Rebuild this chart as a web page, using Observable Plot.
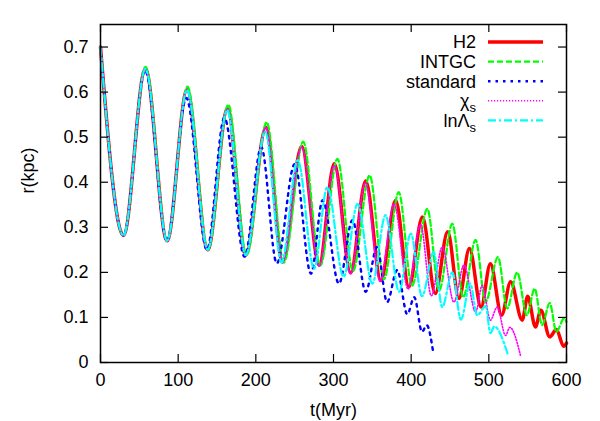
<!DOCTYPE html>
<html>
<head>
<meta charset="utf-8">
<script src="https://cdn.jsdelivr.net/npm/d3@7"></script>
<script src="https://cdn.jsdelivr.net/npm/@observablehq/plot@0.6"></script>
<style>
  html, body { margin: 0; padding: 0; background: #fff; }
  #chart { width: 600px; height: 421px; }
</style>
</head>
<body>
<div id="chart"></div>
<script>
// ---- data (extrema) ----
const xTicks = [0, 100, 200, 300, 400, 500, 600];
const yTicks = [0, 0.1, 0.2, 0.3, 0.4, 0.5, 0.6, 0.7];

const h2T = [0, 29.6, 57.8, 85.7, 111.4, 138, 163.5, 187, 213, 234.4, 259, 281.5, 301, 322, 341.5, 361, 380, 397, 414.5, 431, 447, 461.5, 475, 490, 502, 516.5, 528, 543, 550, 560, 567, 578.4, 587, 596.4, 600];
const h2R = [0.7, 0.282, 0.652, 0.27, 0.605, 0.25, 0.563, 0.238, 0.522, 0.223, 0.48, 0.216, 0.441, 0.199, 0.403, 0.182, 0.36, 0.168, 0.323, 0.153, 0.29, 0.142, 0.253, 0.123, 0.219, 0.105, 0.179, 0.094, 0.147, 0.079, 0.116, 0.057, 0.073, 0.036, 0.043];

const intgcT = [0, 29.6, 58, 86, 112, 138.5, 164.5, 188, 214, 236, 261, 283, 305, 325, 346.5, 365, 384, 401, 420.8, 436, 453, 467, 483, 495.7, 511.8, 523.6, 536.5, 549, 559, 568.6, 578.4, 587, 597, 600];
const intgcR = [0.7, 0.282, 0.656, 0.27, 0.612, 0.25, 0.572, 0.238, 0.533, 0.222, 0.49, 0.215, 0.452, 0.203, 0.415, 0.185, 0.378, 0.17, 0.341, 0.16, 0.308, 0.145, 0.272, 0.134, 0.234, 0.12, 0.2, 0.105, 0.164, 0.083, 0.132, 0.068, 0.098, 0.09];

const stdT = [0, 29.6, 57.5, 85.5, 110.5, 137, 159.5, 185.5, 207, 227, 250, 271, 286, 307, 324.4, 341.5, 356, 369, 382, 395, 404, 414, 420, 428.5];
const stdR = [0.7, 0.282, 0.648, 0.27, 0.587, 0.25, 0.543, 0.235, 0.478, 0.22, 0.44, 0.197, 0.36, 0.175, 0.316, 0.157, 0.256, 0.134, 0.205, 0.107, 0.145, 0.068, 0.083, 0.021];

const chiT = [0, 29.6, 57.8, 85.7, 111.4, 138, 163.5, 187, 213, 234.4, 259, 281.5, 301, 322, 341, 360, 378, 396, 412, 426, 440, 455, 468, 483, 491.5, 502, 510.8, 521.5, 527, 540.7];
const chiR = [0.7, 0.282, 0.652, 0.27, 0.605, 0.25, 0.563, 0.238, 0.522, 0.223, 0.478, 0.214, 0.437, 0.197, 0.398, 0.18, 0.352, 0.163, 0.306, 0.148, 0.256, 0.134, 0.216, 0.112, 0.171, 0.094, 0.123, 0.06, 0.078, 0.016];

const lnT = [0, 29.6, 57.8, 85.7, 111.4, 138, 163, 187, 212, 233, 254, 275, 292, 313, 331, 350, 367, 384.5, 399.5, 414, 429, 440, 453, 464, 476, 485, 496, 502, 507, 524];
const lnR = [0.7, 0.282, 0.652, 0.27, 0.605, 0.25, 0.56, 0.238, 0.512, 0.222, 0.449, 0.208, 0.389, 0.19, 0.352, 0.175, 0.327, 0.157, 0.286, 0.147, 0.245, 0.123, 0.2, 0.095, 0.175, 0.105, 0.125, 0.065, 0.08, 0.02];

const seriesNames = ["H2", "INTGC", "standard", "χs", "lnΛs"];

const toRows = (ts, rs) => ts.map((t, i) => ({t, r: rs[i]}));
const datasets = [toRows(h2T, h2R), toRows(intgcT, intgcR), toRows(stdT, stdR), toRows(chiT, chiR), toRows(lnT, lnR)];

const W = 600, H = 421;
const mL = 100, mR = 34, mT = 24, mB = 59;
const innerW = W - mL - mR, innerH = H - mT - mB;
const TK = 8;
const FONT = "'Liberation Sans', Arial, Helvetica, sans-serif";
const FS = 18;

const styles = [
  {stroke: "#ff0000", strokeWidth: 3.5, dash: null},
  {stroke: "#00ff00", strokeWidth: 2.2, dash: "6,3"},
  {stroke: "#0000ff", strokeWidth: 2.4, dash: "2.5,5"},
  {stroke: "#ff00ff", strokeWidth: 1.6, dash: "1.2,1.8"},
  {stroke: "#00ffff", strokeWidth: 2.2, dash: "8,3,2,3"}
];

const lineMarks = datasets.map((d, i) => Plot.line(d, {
  x: "t", y: "r", curve: "monotone-x",
  stroke: styles[i].stroke, strokeWidth: styles[i].strokeWidth,
  strokeDasharray: styles[i].dash
}));

const plot = Plot.plot({
  width: W, height: H,
  marginLeft: mL, marginRight: mR, marginTop: mT, marginBottom: mB,
  style: {fontFamily: FONT, fontSize: FS + "px", color: "#000", background: "#fff"},
  x: {domain: [0, 600]},
  y: {domain: [0, 0.75]},
  marks: [
    Plot.axisX(xTicks, {tickSize: 0, tickPadding: 11, label: null, fontSize: FS}),
    Plot.axisY(yTicks, {tickSize: 0, tickPadding: 12, label: null, fontSize: FS, tickFormat: d => d === 0 ? "0" : d3.format(".1f")(d)}),
    Plot.text(["t(Myr)"], {frameAnchor: "bottom", lineAnchor: "middle", dy: 48, fontSize: FS}),
    Plot.text(["r(kpc)"], {frameAnchor: "left", dx: -72, rotate: -90, fontSize: FS}),
    ...lineMarks,
    // inward ticks on all four sides
    Plot.tickY(yTicks, {y: d => d, insetRight: innerW - TK, stroke: "#000", strokeWidth: 1.2}),
    Plot.tickY(yTicks, {y: d => d, insetLeft: innerW - TK, stroke: "#000", strokeWidth: 1.2}),
    Plot.tickX(xTicks, {x: d => d, insetTop: innerH - TK, stroke: "#000", strokeWidth: 1.2}),
    Plot.tickX(xTicks, {x: d => d, insetBottom: innerH - TK, stroke: "#000", strokeWidth: 1.2}),
    Plot.frame({stroke: "#000", strokeWidth: 1.5})
  ]
});

// legend (top right, inside the frame), built in the same SVG
const svg = d3.select(plot);
const lg = svg.append("g").attr("font-family", FONT).attr("font-size", FS);
const rowY0 = 42, rowDY = 19.6, textX = 476, s1 = 488, s2 = 543;
const labelFns = [
  (t) => t.text("H2"),
  (t) => t.text("INTGC"),
  (t) => t.text("standard"),
  (t) => { t.append("tspan").text("χ"); t.append("tspan").attr("font-size", 13).attr("dy", 5).text("s"); },
  (t) => { t.append("tspan").text("lnΛ"); t.append("tspan").attr("font-size", 13).attr("dy", 5).text("s"); }
];
seriesNames.forEach((name, i) => {
  const y = rowY0 + i * rowDY;
  const t = lg.append("text").attr("x", textX).attr("y", y).attr("dy", "0.35em").attr("text-anchor", "end");
  labelFns[i](t);
  lg.append("line").attr("x1", s1).attr("x2", s2).attr("y1", y).attr("y2", y)
    .attr("stroke", styles[i].stroke).attr("stroke-width", styles[i].strokeWidth)
    .attr("stroke-dasharray", styles[i].dash);
});

document.getElementById("chart").appendChild(plot);
</script>
</body>
</html>
